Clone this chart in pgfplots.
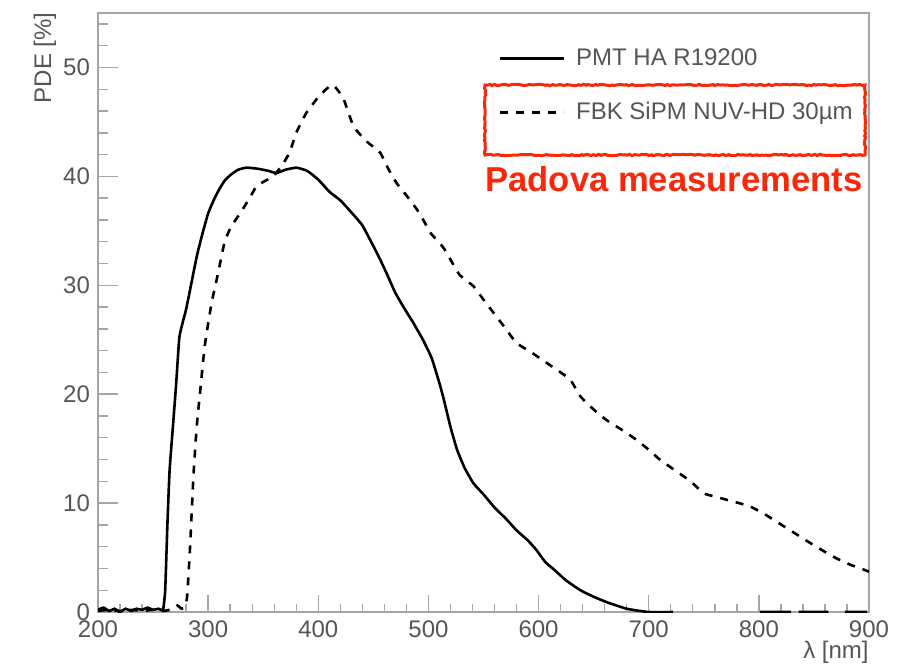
\documentclass[border=0pt]{standalone}
\usepackage{pgfplots}
\pgfplotsset{compat=1.18}
\usepackage{fontspec}
\setmainfont{Liberation Sans}
\usetikzlibrary{decorations.pathmorphing}
\definecolor{framegray}{RGB}{165,165,165}
\definecolor{labgray}{RGB}{85,85,85}
\definecolor{padred}{RGB}{250,40,10}
\begin{document}
\begin{tikzpicture}
\begin{axis}[
  at={(0pt,0pt)}, anchor=south west,
  scale only axis, width=385.5pt, height=299.5pt,
  xmin=200, xmax=900, ymin=0, ymax=55,
  xtick={200,300,...,900}, ytick={0,10,...,50},
  minor xtick={220,240,...,880}, minor ytick={2,4,...,54},
  xtick pos=bottom, ytick pos=left, tick align=inside,
  axis line style={framegray, line width=1.1pt},
  every tick/.style={framegray, line width=0.7pt},
  xtick style={/pgfplots/major tick length=8.5pt, /pgfplots/minor tick length=4pt},
  ytick style={/pgfplots/major tick length=10pt, /pgfplots/minor tick length=5pt},
  /pgf/number format/assume math mode=true,
  ticklabel style={font=\fontsize{12}{14}\selectfont, text=labgray},
  xticklabel style={yshift=-1pt},
  yticklabel style={xshift=-0.5pt},
  unbounded coords=jump,
  legend cell align=left,
  legend style={draw=none, fill=none, at={(rel axis cs:0.519,0.948)}, anchor=north west,
    font=\fontsize{12}{14}\selectfont, text=labgray, row sep=13pt, inner sep=0pt},
  legend image code/.code={\draw[#1] (0pt,0pt) -- (32pt,0pt);},
  /tikz/every odd column/.append style={column sep=3.5pt},
]
\addplot[black, line width=1.3pt, smooth, tension=0.3] coordinates {
(200,0.2) (205,0.4) (210,0.1) (215,0.3) (220,0.0) (225,0.3) (230,0.1) (235,0.3)
(240,0.2) (245,0.4) (250,0.2) (255,0.3) (259,0.2) (261,2) (263,8) (265,13)
(268,17) (271,21) (274,25.3) (280,27.8) (285,30.3) (290,32.8) (295,34.8)
(300,36.6) (305,37.8) (310,38.8) (315,39.6) (320,40.1) (327,40.6) (335,40.8)
(345,40.7) (355,40.5) (362,40.3) (370,40.6) (380,40.8) (390,40.5) (400,39.7)
(410,38.6) (420,37.8) (430,36.7) (440,35.5) (450,33.6) (456,32.4) (462,31.1)
(470,29.3) (478,27.9) (486,26.6) (495,25.0) (503,23.3) (510,21.0) (514,19.5)
(520,17.0) (526,14.9) (533,13.2) (541,11.8) (550,10.8) (560,9.6) (571,8.5)
(580,7.5) (590,6.6) (598,5.7) (606,4.6) (614,3.9) (625,2.9) (638,2.0)
(650,1.4) (662,0.9) (680,0.3) (700,0.0) (722,0.0)
(760,nan)
(801,0) (829,0) (832,nan) (836,0) (863,0) (870,nan) (878,0) (898,0)
};
\addlegendentry{PMT HA R19200}
\addplot[black, line width=1.3pt, dash pattern=on 4pt off 4pt, smooth, tension=0.3] coordinates {
(200,0.1) (210,0.2) (220,0.1) (230,0.2) (240,0.1) (250,0.2) (260,0.1) (268,0.3)
(272,0.6) (276,0.3) (279,0.5) (281,1.5) (283.6,6.0) (286.6,12.4) (289.6,17.0)
(292.6,20.1) (297,24.5) (303,28.3) (309,31.1) (315,34.0) (321,35.4) (329,36.6)
(337,37.9) (344,39.1) (352,39.6) (359,40.0) (367,41.0) (374,42.2) (380,44.0)
(389,45.8) (401,47.4) (412,48.4) (417,48.0) (423,47.1) (432,44.6) (444,43.2)
(456,42.2) (463,40.8) (471,39.4) (482,38.0) (492,36.6) (502,34.8) (514,33.4)
(528,31.0) (541,29.9) (552,28.4) (562,27.1) (571,25.9) (580,24.7) (594,23.8)
(607,22.9) (620,22.0) (629,21.3) (638,19.8) (650,18.6) (662,17.6) (676,16.7)
(689,15.8) (700,14.9) (710,14.0) (724,13.0) (738,12.0) (750,10.9) (760,10.6)
(771,10.3) (782,10.0) (792,9.7) (805,9.0) (816,8.3) (830,7.4) (844,6.5)
(857,5.7) (871,4.9) (884,4.3) (895,3.9) (900,3.7)
};
\addlegendentry{FBK SiPM NUV-HD 30µm}
\end{axis}
% annotation: red box and text
\draw[padred, line width=1.5pt, decorate, decoration={random steps, segment length=1.2pt, amplitude=0.35pt}]
  (193.5pt,228.5pt) rectangle (383.5pt,263.5pt);
\node[anchor=base west, inner sep=0pt, text=padred, font=\fontsize{17.3}{20}\selectfont\bfseries]
  at (193.5pt,210.5pt) {Padova measurements};
% axis labels
\node[anchor=base east, inner sep=0pt, text=labgray, font=\fontsize{12}{14}\selectfont]
  at (385.5pt,-23pt) {λ [nm]};
\node[rotate=90, anchor=east, inner sep=0pt, text=labgray, font=\fontsize{12}{14}\selectfont]
  at (-26.5pt,300pt) {PDE [\%]};
\pgfresetboundingbox
\useasboundingbox (-49pt,-26.5pt) rectangle (399.5pt,306pt);
\end{tikzpicture}
\end{document}
